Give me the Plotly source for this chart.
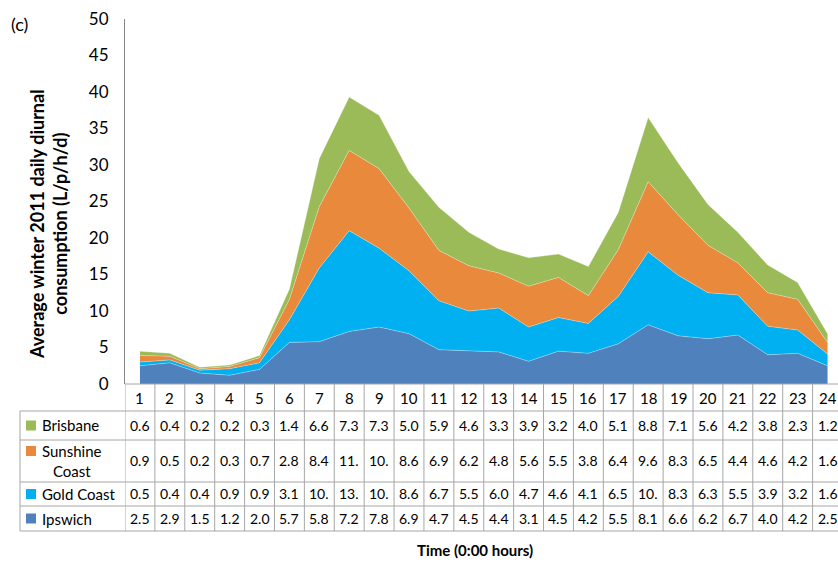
import plotly.graph_objects as go

hours = list(range(1, 25))
ipswich = [2.5, 2.9, 1.5, 1.2, 2.0, 5.7, 5.8, 7.2, 7.8, 6.9, 4.7, 4.5, 4.4, 3.1, 4.5, 4.2, 5.5, 8.1, 6.6, 6.2, 6.7, 4.0, 4.2, 2.5]
gold_coast = [0.5, 0.4, 0.4, 0.9, 0.9, 3.1, 10.1, 13.8, 10.8, 8.6, 6.7, 5.5, 6.0, 4.7, 4.6, 4.1, 6.5, 10.0, 8.3, 6.3, 5.5, 3.9, 3.2, 1.6]
sunshine = [0.9, 0.5, 0.2, 0.3, 0.7, 2.8, 8.4, 11.0, 10.9, 8.6, 6.9, 6.2, 4.8, 5.6, 5.5, 3.8, 6.4, 9.6, 8.3, 6.5, 4.4, 4.6, 4.2, 1.6]
brisbane = [0.6, 0.4, 0.2, 0.2, 0.3, 1.4, 6.6, 7.3, 7.3, 5.0, 5.9, 4.6, 3.3, 3.9, 3.2, 4.0, 5.1, 8.8, 7.1, 5.6, 4.2, 3.8, 2.3, 1.2]
y_ticks = [0, 5, 10, 15, 20, 25, 30, 35, 40, 45, 50]

series = [
    ("Ipswich", ipswich, "#4F81BD"),
    ("Gold Coast", gold_coast, "#00B0F0"),
    ("Sunshine<br>Coast", sunshine, "#E8893B"),
    ("Brisbane", brisbane, "#9BBB59"),
]

W, H = 838, 563
L, R, T, B = 125, 0, 19, 179
PW = W - L - R
PH = H - T - B
FONT = "Lato"
GRID = "#A6A6A6"

def px_x(p):
    return (p - L) / PW

def px_y(p):
    return (H - B - p) / PH

fig = go.Figure()
for name, vals, col in series:
    fig.add_trace(go.Scatter(
        x=hours, y=vals, name=name, mode="lines", stackgroup="one",
        line=dict(width=0.6, color="rgba(255,255,255,0.5)"), fillcolor=col,
        showlegend=False, hoverinfo="x+y+name",
    ))

shapes = []
annotations = []

rows = [  # (label, values, color, top, bottom)
    ("Brisbane", brisbane, "#9BBB59", 411, 440),
    ("Sunshine<br>Coast", sunshine, "#E8893B", 440, 482),
    ("Gold Coast", gold_coast, "#00B0F0", 482, 506),
    ("Ipswich", ipswich, "#4F81BD", 506, 531),
]
line = dict(color=GRID, width=1)

# horizontal lines
shapes.append(dict(type="line", xref="paper", yref="paper", x0=px_x(20), x1=1,
                   y0=px_y(411), y1=px_y(411), line=line))
for _, _, _, top, bot in rows:
    shapes.append(dict(type="line", xref="paper", yref="paper", x0=px_x(20), x1=1,
                       y0=px_y(bot), y1=px_y(bot), line=line))
shapes.append(dict(type="line", xref="paper", yref="paper", x0=0, x1=1,
                   y0=0, y1=0, line=line))
# vertical lines
shapes.append(dict(type="line", xref="paper", yref="paper", x0=px_x(20), x1=px_x(20),
                   y0=px_y(411), y1=px_y(531), line=line))
for k in range(0, 25):
    shapes.append(dict(type="line", xref="x", yref="paper", x0=k + 0.5, x1=k + 0.5,
                       y0=0, y1=px_y(531), line=line))

# header numbers
for h in hours:
    annotations.append(dict(x=h, y=px_y(397.5), xref="x", yref="paper", text=str(h),
                            showarrow=False, font=dict(size=15, color="#000", family=FONT),
                            xanchor="center", yanchor="middle"))

def disp(v):
    s = f"{v:.1f}"
    return s[:3]

for label, vals, col, top, bot in rows:
    mid = (top + bot) / 2
    if "Sunshine" in label:
        sq0, sq1 = top + 6, top + 16
    else:
        sq0, sq1 = mid - 5, mid + 5
    shapes.append(dict(type="rect", xref="paper", yref="paper", x0=px_x(26), x1=px_x(36),
                       y0=px_y(sq1), y1=px_y(sq0),
                       fillcolor=col, line=dict(width=0)))
    annotations.append(dict(x=px_x(40), y=px_y(mid), xref="paper", yref="paper", text=label,
                            showarrow=False, align="center",
                            font=dict(size=15, color="#000", family=FONT),
                            xanchor="left", yanchor="middle"))
    for h, v in zip(hours, vals):
        annotations.append(dict(x=h, y=px_y(mid), xref="x", yref="paper", text=disp(v),
                                showarrow=False, font=dict(size=14, color="#000", family=FONT),
                                xanchor="center", yanchor="middle"))

annotations.append(dict(x=px_x(475), y=px_y(550), xref="paper", yref="paper",
                        text="<b>Time (0:00 hours)</b>", showarrow=False,
                        xanchor="center", yanchor="middle",
                        font=dict(size=15, color="#000", family=FONT)))
annotations.append(dict(x=px_x(48), y=px_y(224), xref="paper", yref="paper",
                        text="<b>Average winter 2011 daily diurnal<br>consumption (L/p/h/d)</b>",
                        textangle=-90, showarrow=False, align="center",
                        xanchor="center", yanchor="middle",
                        font=dict(size=18, color="#000", family=FONT)))
annotations.append(dict(x=px_x(9), y=px_y(24), xref="paper", yref="paper", text="(c)",
                        showarrow=False, xanchor="left", yanchor="middle",
                        font=dict(size=18, color="#000", family=FONT)))

fig.update_layout(
    width=W, height=H,
    margin=dict(l=L, r=R, t=T, b=B),
    paper_bgcolor="white", plot_bgcolor="white",
    shapes=shapes, annotations=annotations,
    xaxis=dict(range=[0.5, 24.35], showticklabels=False, showgrid=False, zeroline=False,
               showline=False, fixedrange=True),
    yaxis=dict(range=[0, 50], tickvals=y_ticks, showgrid=False, zeroline=False,
               showline=True, linecolor="#868686", linewidth=1, ticks="",
               tickfont=dict(size=17, color="#000", family=FONT), ticklabelstandoff=12),
    font=dict(family=FONT),
)

fig.write_html("out.html", config={"displayModeBar": False},
               post_script="document.body.style.margin='0';document.body.style.overflow='hidden';")
